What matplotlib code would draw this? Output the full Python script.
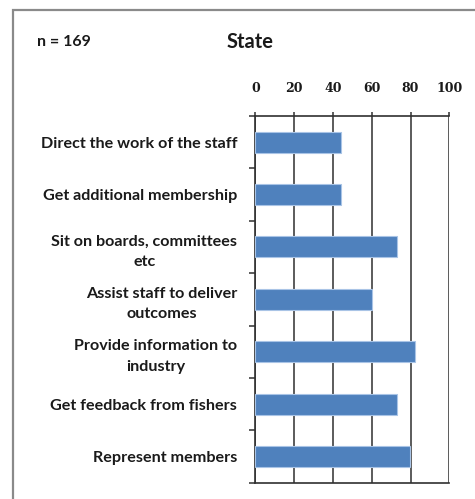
import numpy as np
import matplotlib
matplotlib.use("Agg")
import matplotlib.pyplot as plt
from matplotlib.patches import Rectangle

# survey responses, percent of n = 169
roles = ["Direct the work of the staff",
         "Get additional membership",
         "Sit on boards, committees\netc",
         "Assist staff to deliver\noutcomes",
         "Provide information to\nindustry",
         "Get feedback from fishers",
         "Represent members"]
pct = [44.4, 44.4, 72.8, 60.4, 82.2, 72.8, 79.9]
xticks = [0, 20, 40, 60, 80, 100]

W, H = 475, 499
fig = plt.figure(figsize=(W / 100, H / 100), dpi=100)
fig.patch.set_facecolor("white")

# outer frame (runs off the right and bottom edges)
fig.patches.append(Rectangle((13 / W, -0.05), 1.2, 1.05 - 10 / H,
                             transform=fig.transFigure, fill=False,
                             edgecolor="#8a8a8a", linewidth=1.6))

ax = fig.add_axes([255.3 / W, 1 - 482.7 / H, 194 / W, 366.7 / H])
y = np.arange(len(roles))
ax.barh(y, pct, height=0.4, color="#4F81BD", edgecolor="#a9c4e6",
        linewidth=0.8, zorder=3)

ax.set_xlim(0, 100)
ax.set_ylim(len(roles) - 0.5, -0.5)

ax.xaxis.tick_top()
ax.set_xticks(xticks)
ax.set_xticklabels([str(t) for t in xticks], family="DejaVu Serif",
                   fontweight="bold", fontsize=9, color="#1a1a1a")
ax.tick_params(axis="x", direction="out", length=3, width=1.1,
               color="#303030", pad=12)
ax.grid(axis="x", color="#404040", linewidth=1.2, zorder=1)

ax.set_yticks(y)
ax.set_yticklabels(roles, family="Lato", fontweight="bold", fontsize=11.6,
                   color="#1a1a1a", multialignment="center", linespacing=1.6)
ax.tick_params(axis="y", length=0, pad=13)
ax.set_yticks(np.arange(-0.5, len(roles)), minor=True)
ax.tick_params(axis="y", which="minor", direction="out", length=4,
               width=1.1, color="#303030")

for side in ["left", "top", "bottom"]:
    ax.spines[side].set_color("#303030")
    ax.spines[side].set_linewidth(1.2)
ax.spines["right"].set_visible(False)

fig.text(37 / W, 1 - 42 / H, "n = 169", family="Lato", fontweight="bold",
         fontsize=11.5, va="center", ha="left", color="#1a1a1a")
fig.text(250 / W, 1 - 42 / H, "State", family="Lato", fontweight="bold",
         fontsize=14.5, va="center", ha="center", color="#1a1a1a")

fig.savefig("out.png", dpi=100)
